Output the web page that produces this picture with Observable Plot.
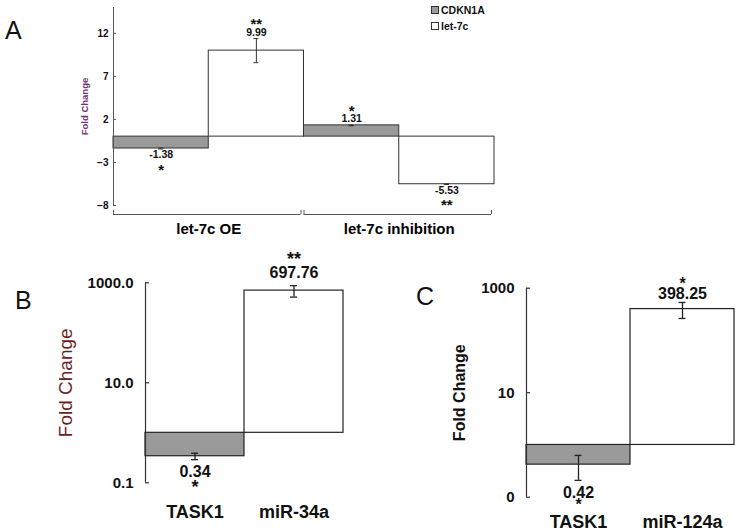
<!DOCTYPE html>
<html>
<head>
<meta charset="utf-8">
<script src="https://cdn.jsdelivr.net/npm/d3@7"></script>
<script src="https://cdn.jsdelivr.net/npm/@observablehq/plot@0.6"></script>
<style>
  html, body { margin: 0; padding: 0; background: #fff; }
  #wrap { position: relative; width: 739px; height: 531px; background: #fff; overflow: hidden;
          font-family: 'Liberation Sans', Arial, Helvetica, sans-serif; }
  .abs { position: absolute; }
  .letter { position: absolute; font-size: 25px; line-height: 1; color: #111; }
  .leg { position: absolute; font-size: 10.5px; font-weight: bold; line-height: 1; color: #111; display: flex; align-items: center; }
  .sw { width: 6px; height: 6px; border: 1px solid #333; margin-right: 2px; }
</style>
</head>
<body>
<div id="wrap"></div>
<script>
// ---------- Panel A data ----------
const groupsA = ["let-7c OE", "let-7c inhibition"];
const seriesA = ["CDKN1A", "let-7c"];
const cdkn1aA = [-1.38, 1.31];
const let7cA = [9.99, -5.53];
const cdkn1aErrA = [0.05, 0.05];
const let7cErrA = [1.4, 0.03];
const cdkn1aSigA = ["*", "*"];
const let7cSigA = ["**", "**"];
const ticksA = [-8, -3, 2, 7, 12];

// ---------- Panel B data ----------
const catsB = ["TASK1", "miR-34a"];
const valuesB = [0.34, 697.76];
const errB = [0.05, 180];
const sigB = ["*", "**"];
const ticksB = [0.1, 10, 1000];
const tickLabelsB = ["0.1", "10.0", "1000.0"];

// ---------- Panel C data ----------
const catsC = ["TASK1", "miR-124a"];
const valuesC = [0.42, 398.25];
const errC = [0.21, 135];
const sigC = ["*", "*"];
const ticksC = [0.1, 10, 1000];
const tickLabelsC = ["0", "10", "1000"];

const barFill = ["#9a9a9a", "#ffffff"];
const FONT = "'Liberation Sans', Arial, Helvetica, sans-serif";
const wrap = document.getElementById("wrap");

function place(el, left, top) {
  const d = document.createElement("div");
  d.className = "abs";
  d.style.left = left + "px";
  d.style.top = top + "px";
  d.append(el);
  wrap.append(d);
}

// ---------- Panel A ----------
const rowsA = [];
groupsA.forEach((g, gi) => {
  rowsA.push({i: rowsA.length, group: g, series: seriesA[0], value: cdkn1aA[gi], err: cdkn1aErrA[gi], sig: cdkn1aSigA[gi]});
  rowsA.push({i: rowsA.length, group: g, series: seriesA[1], value: let7cA[gi], err: let7cErrA[gi], sig: let7cSigA[gi]});
});
const posA = rowsA.filter(d => d.value >= 0);
const negA = rowsA.filter(d => d.value < 0);
const fmt = d => d.value.toFixed(2);

const plotA = Plot.plot({
  width: 520, height: 240,
  marginLeft: 113, marginRight: 26, marginTop: 7, marginBottom: 35,
  style: {fontFamily: FONT, background: "transparent", overflow: "visible", color: "#111"},
  x: {domain: [0, rowsA.length], axis: null},
  y: {domain: [-8, 15], axis: null},
  color: {domain: seriesA, range: barFill},
  marks: [
    Plot.rectY(rowsA, {x1: d => d.i, x2: d => d.i + 1, y1: 0, y2: "value", fill: "series", stroke: "#333", strokeWidth: 1}),
    Plot.ruleX(rowsA, {x: d => d.i + 0.5, y1: d => d.value - d.err, y2: d => d.value + d.err, stroke: "#333"}),
    Plot.ruleY(rowsA, {x1: d => d.i + 0.5, x2: d => d.i + 0.5, y: d => d.value + d.err, insetLeft: -2.5, insetRight: -2.5, stroke: "#333"}),
    Plot.ruleY(rowsA, {x1: d => d.i + 0.5, x2: d => d.i + 0.5, y: d => d.value - d.err, insetLeft: -2.5, insetRight: -2.5, stroke: "#333"}),
    Plot.ruleX([0], {y1: -8, y2: 15, stroke: "#555"}),
    Plot.axisY({ticks: ticksA, tickSize: 3, dx: 3, fill: "none", label: null, stroke: "#555"}),
    Plot.axisY({ticks: ticksA, tickSize: 0, tickPadding: 5, fontSize: 10, fontWeight: "bold", label: null}),
    Plot.text(["Fold Change"], {frameAnchor: "left", textAnchor: "middle", dx: -29, rotate: -90, fontSize: 9.5, fontWeight: "bold", fill: "#6b3575"}),
    Plot.text(posA, {x: d => d.i + 0.5, y: d => d.value + d.err, text: fmt, dy: -6, fontSize: 10.5, fontWeight: "bold"}),
    Plot.text(posA, {x: d => d.i + 0.5, y: d => d.value + d.err, text: "sig", dy: -14, fontSize: 15, fontWeight: "bold"}),
    Plot.text(negA, {x: d => d.i + 0.5, y: d => d.value - d.err, text: fmt, dy: 6, fontSize: 10.5, fontWeight: "bold"}),
    Plot.text(negA, {x: d => d.i + 0.5, y: d => d.value - d.err, text: "sig", dy: 21, fontSize: 15, fontWeight: "bold"}),
    // group brackets
    Plot.ruleY(groupsA, {x1: (d, i) => 2 * i, x2: (d, i) => 2 * i + 2, y: -8, dy: 9, insetRight: 3, stroke: "#555"}),
    Plot.ruleX(groupsA, {x: (d, i) => 2 * i, y1: -8, y2: -8, insetBottom: 4, dy: 9, stroke: "#555"}),
    Plot.ruleX(groupsA, {x: (d, i) => 2 * i + 2, y1: -8, y2: -8, insetBottom: 4, dy: 9, dx: -3, stroke: "#555"}),
    Plot.text(groupsA, {x: (d, i) => 2 * i + 1, frameAnchor: "bottom", lineAnchor: "middle", dy: 24, fontSize: 15, fontWeight: "bold", fill: "#000"})
  ]
});
place(plotA, 0, 0);

// ---------- Panels B, C ----------
function logPanel({cats, values, errs, sigs, ticks, tickLabels, width, height, mL, mR, mT, mB,
                   yLabel, yLabelColor, yLabelWeight, yLabelSize, yLabelDx, posDy, posStarDy, negDy, negStarDy, catDy, starSize}) {
  const rows = cats.map((c, i) => ({i, cat: c, value: values[i], err: errs[i], sig: sigs[i]}));
  const pos = rows.filter(d => d.value >= 1);
  const neg = rows.filter(d => d.value < 1);
  return Plot.plot({
    width, height, marginLeft: mL, marginRight: mR, marginTop: mT, marginBottom: mB,
    style: {fontFamily: FONT, background: "transparent", overflow: "visible", color: "#111"},
    x: {domain: [0, rows.length], axis: null},
    y: {type: "log", domain: [0.1, 1000], axis: null},
    color: {domain: cats, range: barFill},
    marks: [
      Plot.rectY(rows, {x1: d => d.i, x2: d => d.i + 1, y1: 1, y2: "value", fill: "cat", stroke: "#222", strokeWidth: 1.2}),
      Plot.ruleX(rows, {x: d => d.i + 0.5, y1: d => d.value - d.err, y2: d => d.value + d.err, stroke: "#222", strokeWidth: 1.3}),
      Plot.ruleY(rows, {x1: d => d.i + 0.5, x2: d => d.i + 0.5, y: d => d.value + d.err, insetLeft: -3.5, insetRight: -3.5, stroke: "#222", strokeWidth: 1.3}),
      Plot.ruleY(rows, {x1: d => d.i + 0.5, x2: d => d.i + 0.5, y: d => d.value - d.err, insetLeft: -3.5, insetRight: -3.5, stroke: "#222", strokeWidth: 1.3}),
      Plot.ruleX([0], {y1: 0.1, y2: 1000, stroke: "#333", strokeWidth: 1.2}),
      Plot.axisY({ticks, tickSize: 4, dx: 4, fill: "none", label: null, stroke: "#333", strokeWidth: 1.2}),
      Plot.axisY({ticks, tickSize: 0, tickPadding: 12, tickFormat: d => tickLabels[ticks.indexOf(d)], fontSize: 15, fontWeight: "bold", label: null}),
      Plot.text([yLabel], {frameAnchor: "left", textAnchor: "middle", dx: yLabelDx, rotate: -90, fontSize: yLabelSize, fontWeight: yLabelWeight, fill: yLabelColor}),
      Plot.text(pos, {x: d => d.i + 0.5, y: d => d.value + d.err, text: d => d.value.toFixed(2), dy: posDy, fontSize: 16, fontWeight: "bold"}),
      Plot.text(pos, {x: d => d.i + 0.5, y: d => d.value + d.err, text: "sig", dy: posStarDy, fontSize: starSize, fontWeight: "bold"}),
      Plot.text(neg, {x: d => d.i + 0.5, y: d => d.value - d.err, text: d => d.value.toFixed(2), dy: negDy, fontSize: 16, fontWeight: "bold"}),
      Plot.text(neg, {x: d => d.i + 0.5, y: d => d.value - d.err, text: "sig", dy: negStarDy, fontSize: starSize, fontWeight: "bold"}),
      Plot.text(rows, {x: d => d.i + 0.5, text: "cat", frameAnchor: "bottom", lineAnchor: "middle", dy: catDy, fontSize: 18, fontWeight: "bold"})
    ]
  });
}

const plotB = logPanel({
  cats: catsB, values: valuesB, errs: errB, sigs: sigB, ticks: ticksB, tickLabels: tickLabelsB,
  width: 370, height: 281, mL: 145, mR: 27, mT: 32.3, mB: 48.7,
  yLabel: "Fold Change", yLabelColor: "#6a1e1e", yLabelWeight: "normal", yLabelSize: 19, yLabelDx: -80,
  posDy: -12.4, posStarDy: -26, negDy: 12.5, negStarDy: 28, catDy: 29.4, starSize: 18
});
place(plotB, 0, 250);

const plotC = logPanel({
  cats: catsC, values: valuesC, errs: errC, sigs: sigC, ticks: ticksC, tickLabels: tickLabelsC,
  width: 369, height: 281, mL: 156, mR: 5, mT: 37.7, mB: 34.3,
  yLabel: "Fold Change", yLabelColor: "#111", yLabelWeight: "bold", yLabelSize: 16, yLabelDx: -67,
  posDy: -9, posStarDy: -19, negDy: 12.4, negStarDy: 25, catDy: 25, starSize: 16
});
place(plotC, 370, 250);

// ---------- panel letters and legend ----------
function addLetter(t, left, top) {
  const d = document.createElement("div");
  d.className = "letter";
  d.textContent = t;
  d.style.left = left + "px";
  d.style.top = top + "px";
  wrap.append(d);
}
addLetter("A", 5, 18);
addLetter("B", 15, 288);
addLetter("C", 416, 284);

seriesA.forEach((s, i) => {
  const row = document.createElement("div");
  row.className = "leg";
  row.style.left = "431px";
  row.style.top = (5 + i * 15.7) + "px";
  const sw = document.createElement("div");
  sw.className = "sw";
  sw.style.background = barFill[i];
  const t = document.createElement("span");
  t.textContent = s;
  row.append(sw, t);
  wrap.append(row);
});
</script>
</body>
</html>
